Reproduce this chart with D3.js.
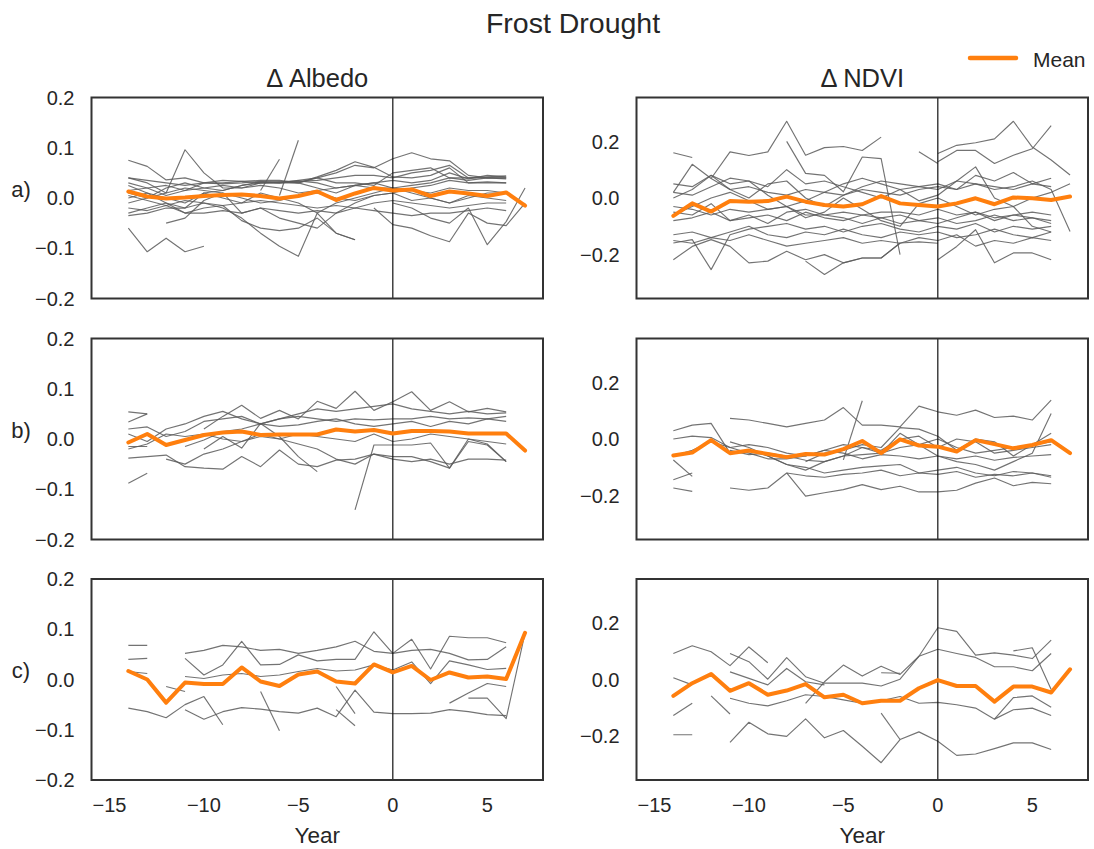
<!DOCTYPE html>
<html>
<head>
<meta charset="utf-8">
<script src="https://cdn.jsdelivr.net/npm/d3@7"></script>
<style>
  html, body { margin: 0; padding: 0; background: #fff; }
  svg text { font-family: "Liberation Sans", Arial, sans-serif; fill: #262626; }
</style>
</head>
<body>
<svg id="chart" width="1094" height="849"></svg>
<script>
// Years relative to the frost-drought event
const YEARS = [-14,-13,-12,-11,-10,-9,-8,-7,-6,-5,-4,-3,-2,-1,0,1,2,3,4,5,6,7];
const X_TICKS = [-15,-10,-5,0,5];
const ALBEDO_TICKS = [-0.2,-0.1,0.0,0.1,0.2];
const NDVI_TICKS = [-0.2,0.0,0.2];
const ROW_LABELS = ["a)","b)","c)"];
const COLUMN_TITLES = ["\u0394 Albedo","\u0394 NDVI"];
const N = null;

// ---- row a ----
const MEAN_ALBEDO_A = [0.013,0.003,-0.001,0.001,0.004,0.006,0.007,0.004,-0.001,0.004,0.013,-0.004,0.009,0.020,0.015,0.017,0.004,0.013,0.009,0.004,0.011,-0.015];
const SITES_ALBEDO_A = [
  [0.075,0.063,0.036,0.040,0.030,0.028,0.030,0.033,0.030,0.035,0.040,0.050,0.065,0.060,0.078,0.090,0.078,0.074,0.045,0.040,0.040,N],
  [0.040,0.030,0.010,0.096,0.050,0.020,0.020,0.030,0.030,0.033,0.035,0.040,0.045,0.045,0.040,0.050,0.055,0.065,0.040,0.042,0.044,N],
  [-0.060,-0.107,-0.080,-0.107,-0.096,N,N,N,N,N,N,N,N,N,N,N,N,N,N,N,N,N],
  [0.030,0.020,0.005,0.015,0.030,0.030,0.033,0.035,0.035,0.030,0.040,0.030,0.030,0.025,0.050,0.055,0.060,0.040,0.040,0.040,0.040,N],
  [0.025,0.010,0.000,-0.010,0.010,0.015,0.025,0.032,0.032,0.034,0.030,0.020,0.025,0.030,0.035,0.030,0.035,0.050,0.038,0.045,0.042,N],
  [-0.030,-0.020,-0.010,-0.030,-0.020,-0.015,-0.045,-0.060,-0.065,-0.060,-0.040,-0.070,-0.083,N,N,N,N,N,N,N,N,N],
  [0.000,0.010,-0.010,-0.020,0.010,0.000,-0.010,0.010,0.000,-0.010,-0.030,-0.010,0.000,0.010,0.020,0.010,0.000,-0.010,0.000,0.010,0.010,N],
  [-0.035,-0.030,-0.020,-0.020,-0.010,-0.020,-0.040,-0.070,-0.096,-0.116,-0.030,-0.070,-0.083,N,N,N,N,N,N,N,N,N],
  [N,N,N,N,N,N,N,N,N,N,N,N,N,-0.020,-0.053,-0.060,-0.075,-0.087,-0.030,-0.050,-0.055,-0.010],
  [N,N,N,N,N,N,N,N,N,N,N,N,N,N,-0.010,-0.020,-0.040,-0.050,-0.020,-0.093,-0.047,0.020],
  [N,N,N,N,N,N,N,0.015,0.077,N,N,N,N,N,N,N,N,N,N,N,N,N],
  [N,N,N,N,N,N,N,N,0.005,0.115,N,N,N,N,N,N,N,N,N,N,N,N],
  [0.010,0.000,0.020,0.030,0.020,0.015,0.025,0.030,0.030,0.030,0.042,0.055,0.072,0.061,0.042,0.040,0.045,0.060,0.030,0.030,0.030,N],
  [0.005,-0.005,-0.015,-0.005,-0.010,-0.015,-0.010,-0.005,-0.010,-0.015,-0.020,-0.015,-0.020,-0.010,-0.005,-0.010,-0.015,-0.020,-0.015,-0.010,-0.010,N],
  [-0.020,-0.025,-0.015,-0.030,-0.030,-0.025,-0.030,-0.020,-0.025,-0.030,-0.025,-0.030,-0.020,-0.025,-0.030,-0.035,-0.030,-0.030,-0.025,-0.020,-0.025,N],
  [0.015,0.020,0.025,0.015,0.020,0.025,0.020,0.025,0.020,0.010,0.015,0.020,0.025,0.020,0.020,0.015,0.010,0.020,0.015,0.015,0.010,N],
  [N,N,-0.050,-0.040,-0.005,0.010,-0.030,-0.020,-0.040,-0.050,-0.060,-0.030,-0.010,0.005,0.010,-0.005,0.000,-0.010,0.005,0.000,-0.005,N],
  [0.040,0.035,0.030,0.025,0.030,0.035,0.033,0.030,0.032,0.030,0.020,0.010,0.025,0.030,0.020,0.025,0.030,0.040,0.035,0.040,0.038,N],
  [-0.010,0.000,0.010,0.020,0.015,0.010,0.000,-0.010,-0.005,0.005,0.010,0.000,-0.005,0.005,0.010,0.020,0.025,0.035,0.030,0.032,0.030,N]
];
const MEAN_NDVI_A = [-0.063,-0.019,-0.048,-0.011,-0.013,-0.011,0.005,-0.013,-0.025,-0.030,-0.022,0.007,-0.019,-0.025,-0.030,-0.019,-0.001,-0.022,0.002,-0.001,-0.007,0.005];
const SITES_NDVI_A = [
  [0.160,0.143,N,N,N,N,N,N,N,N,N,N,N,N,N,N,N,N,N,N,N,N],
  [0.020,0.119,0.069,0.030,0.040,0.020,0.010,0.030,0.020,0.010,0.030,0.020,0.010,0.030,0.040,0.030,0.050,0.040,0.030,0.050,0.040,N],
  [N,N,0.069,0.163,0.150,0.163,0.271,0.151,0.178,0.182,0.168,0.215,N,N,N,N,N,N,N,N,N,N],
  [N,N,N,N,N,N,0.200,0.087,0.080,0.022,0.145,0.139,-0.200,N,N,N,N,N,N,N,N,N],
  [-0.218,-0.171,-0.147,-0.171,-0.229,-0.223,-0.188,-0.218,-0.200,-0.229,-0.212,-0.212,-0.159,-0.155,-0.160,N,N,N,N,N,N,N],
  [-0.159,-0.147,-0.253,-0.130,-0.110,-0.100,-0.090,-0.110,-0.100,-0.120,-0.100,-0.090,-0.110,-0.120,-0.100,-0.110,-0.090,-0.120,-0.100,-0.110,-0.100,N],
  [N,N,N,N,N,N,N,-0.223,-0.270,-0.229,-0.212,-0.212,-0.160,N,N,N,N,N,N,N,N,N],
  [N,N,N,N,N,N,N,N,N,N,N,N,N,N,-0.218,-0.171,-0.112,-0.229,-0.194,-0.194,-0.218,N],
  [N,N,N,N,N,N,N,N,N,N,N,N,N,N,0.157,0.186,0.195,0.209,0.271,0.180,0.134,0.081],
  [N,N,N,N,N,N,N,N,N,N,N,N,N,N,0.128,0.168,0.168,0.122,0.151,0.174,0.256,N],
  [N,N,N,N,N,N,N,N,N,N,N,N,N,0.163,0.122,N,N,N,N,N,N,N],
  [0.050,0.040,0.080,0.030,0.000,0.050,0.060,0.000,-0.030,0.010,0.040,0.060,0.050,0.040,0.030,0.060,0.050,0.030,0.040,0.060,0.030,-0.118],
  [-0.030,-0.040,-0.060,-0.040,-0.050,-0.040,-0.030,-0.060,-0.060,-0.050,-0.060,-0.050,-0.050,-0.060,-0.040,-0.060,-0.050,-0.070,-0.060,-0.070,-0.080,N],
  [-0.080,-0.070,-0.050,-0.080,-0.070,-0.060,-0.080,-0.050,-0.070,-0.080,-0.060,-0.070,-0.090,-0.080,-0.070,-0.090,-0.080,-0.060,-0.080,-0.070,-0.090,N],
  [-0.130,-0.120,-0.140,-0.120,-0.100,-0.130,-0.140,-0.120,-0.130,-0.110,-0.130,-0.140,-0.120,-0.130,-0.120,-0.140,-0.130,-0.110,-0.130,-0.140,-0.120,N],
  [0.000,0.030,0.080,0.050,0.060,0.040,0.100,0.050,0.060,0.040,0.020,0.000,0.030,0.040,0.050,0.030,0.080,0.060,0.090,0.050,0.070,N],
  [-0.060,-0.030,0.000,0.020,-0.010,-0.040,-0.030,-0.070,-0.050,0.000,-0.040,-0.080,-0.100,-0.020,0.000,-0.030,-0.060,-0.040,-0.030,-0.100,-0.120,N],
  [0.020,0.010,0.040,0.070,0.060,0.010,-0.030,-0.010,0.020,0.050,0.070,0.050,0.030,-0.010,0.010,0.060,0.110,0.000,-0.030,0.000,0.020,0.050],
  [-0.050,-0.060,-0.020,-0.080,-0.060,-0.090,-0.050,-0.040,-0.060,-0.070,-0.090,-0.070,-0.060,-0.080,-0.090,-0.070,-0.050,-0.080,-0.060,-0.050,-0.060,N],
  [-0.150,-0.160,-0.140,-0.150,-0.130,-0.150,-0.170,-0.160,-0.150,-0.140,-0.160,-0.150,-0.160,-0.140,-0.150,-0.130,-0.170,-0.150,-0.160,-0.140,-0.150,N]
];

// ---- row b ----
const MEAN_ALBEDO_B = [-0.007,0.010,-0.012,-0.002,0.008,0.013,0.015,0.008,0.009,0.009,0.009,0.019,0.015,0.018,0.011,0.016,0.016,0.015,0.011,0.011,0.011,-0.023];
const SITES_ALBEDO_B = [
  [0.054,0.050,N,N,N,N,N,N,N,N,N,N,N,N,N,N,N,N,N,N,N,N],
  [0.034,0.050,N,N,N,N,N,N,N,N,N,N,N,N,N,N,N,N,N,N,N,N],
  [0.020,0.024,0.005,0.015,0.035,0.040,0.045,0.030,0.040,0.045,0.040,0.035,0.040,0.038,0.040,0.040,0.045,0.040,0.042,0.040,0.045,N],
  [-0.015,-0.015,N,N,N,N,N,N,N,N,N,N,N,N,N,N,N,N,N,N,N,N],
  [-0.088,-0.068,N,N,N,N,N,N,N,N,N,N,N,N,N,N,N,N,N,N,N,N],
  [-0.038,-0.035,-0.032,-0.055,-0.058,-0.060,-0.035,-0.055,-0.022,-0.050,-0.055,-0.042,-0.040,-0.030,-0.035,-0.035,-0.045,-0.058,-0.005,-0.012,-0.045,N],
  [N,N,N,N,0.020,0.045,0.067,0.041,0.057,0.040,0.075,0.061,0.095,0.057,0.074,0.094,0.057,0.074,0.054,0.061,0.054,N],
  [N,N,N,N,N,N,N,N,N,N,N,N,-0.141,-0.012,-0.012,-0.012,-0.008,-0.058,0.000,-0.010,-0.045,N],
  [N,N,N,-0.015,-0.002,0.015,0.020,0.030,0.025,0.028,0.035,0.040,0.030,0.025,0.030,0.035,0.025,0.035,0.030,0.040,0.035,N],
  [N,N,-0.040,-0.050,-0.030,-0.020,-0.005,0.010,0.000,-0.010,-0.020,-0.040,-0.050,-0.030,-0.040,-0.045,-0.040,-0.050,-0.040,-0.040,-0.042,N],
  [N,N,N,N,-0.020,0.005,-0.018,0.031,0.005,-0.035,-0.065,N,N,N,N,N,N,N,N,N,N,N],
  [0.010,-0.005,0.020,0.030,0.045,0.055,0.040,0.030,0.040,0.050,0.060,0.055,0.060,0.065,0.070,0.060,0.055,0.050,0.055,0.050,0.052,N],
  [-0.020,-0.010,0.010,0.005,0.010,0.000,-0.005,0.005,0.000,0.010,0.005,0.000,-0.005,0.010,-0.005,0.000,0.010,0.005,0.000,-0.005,-0.010,N]
];
const MEAN_NDVI_B = [-0.058,-0.048,-0.004,-0.050,-0.041,-0.053,-0.064,-0.053,-0.055,-0.036,-0.007,-0.050,-0.001,-0.023,-0.027,-0.044,-0.004,-0.018,-0.033,-0.021,-0.004,-0.050];
const SITES_NDVI_B = [
  [0.029,0.049,0.055,-0.050,-0.040,-0.060,-0.090,-0.100,-0.120,-0.110,-0.100,-0.095,-0.090,-0.120,-0.110,-0.100,-0.120,-0.130,-0.115,-0.120,-0.130,N],
  [N,N,N,0.073,0.067,0.055,0.043,0.055,0.067,0.111,0.049,0.049,0.043,0.116,0.096,0.084,0.102,0.076,0.081,0.067,0.137,N],
  [N,N,N,N,N,N,N,N,N,-0.074,0.135,N,N,N,N,N,N,N,N,N,N,N],
  [N,N,N,N,N,N,-0.120,-0.202,-0.190,-0.179,-0.161,-0.179,-0.167,-0.187,-0.187,-0.181,-0.156,-0.138,-0.165,-0.153,-0.158,N],
  [N,N,N,-0.173,-0.181,-0.173,-0.120,-0.130,-0.135,-0.125,-0.120,-0.110,-0.130,-0.120,-0.125,-0.115,-0.135,-0.125,-0.130,-0.120,-0.135,N],
  [-0.173,-0.185,N,N,N,N,N,N,N,N,N,N,N,N,N,N,N,N,N,N,N,N],
  [-0.144,-0.120,N,N,N,N,N,N,N,N,N,N,N,N,N,N,N,N,N,N,N,N],
  [-0.074,-0.132,N,N,N,N,N,N,N,N,N,N,N,N,N,N,N,N,N,N,N,N],
  [-0.060,-0.040,-0.010,-0.030,-0.020,-0.030,-0.050,-0.060,-0.040,-0.020,-0.030,-0.040,0.000,0.010,-0.030,0.000,-0.010,-0.050,-0.040,-0.030,-0.020,N],
  [N,N,N,-0.010,-0.030,-0.060,-0.090,-0.110,-0.080,-0.060,-0.030,-0.050,0.020,-0.020,-0.060,-0.080,-0.090,-0.110,-0.080,-0.050,0.090,N],
  [N,N,N,N,N,N,N,-0.080,-0.050,-0.040,-0.020,-0.030,0.040,0.035,0.010,-0.040,0.000,-0.010,-0.060,-0.020,0.020,N],
  [0.000,0.010,0.005,-0.030,-0.050,-0.070,-0.070,-0.060,-0.040,-0.050,-0.070,-0.055,-0.060,-0.070,-0.060,-0.070,-0.060,-0.075,-0.065,-0.060,-0.055,N],
  [N,N,N,-0.040,-0.055,-0.050,-0.060,-0.075,-0.080,-0.060,-0.055,-0.050,-0.030,-0.020,0.000,-0.030,-0.050,-0.040,-0.030,-0.020,-0.010,N]
];

// ---- row c ----
const MEAN_ALBEDO_C = [0.017,0.000,-0.046,-0.006,-0.009,-0.009,0.024,-0.004,-0.013,0.010,0.016,-0.004,-0.008,0.030,0.014,0.027,-0.001,0.014,0.004,0.006,0.001,0.093];
const SITES_ALBEDO_C = [
  [0.068,0.068,N,N,N,N,N,N,N,N,N,N,N,N,N,N,N,N,N,N,N,N],
  [0.040,0.042,N,N,N,N,N,N,N,N,N,N,N,N,N,N,N,N,N,N,N,N],
  [0.016,0.012,N,N,N,N,N,N,N,N,N,N,N,N,N,N,N,N,N,N,N,N],
  [-0.057,-0.064,-0.076,-0.050,-0.034,-0.090,N,N,N,N,N,N,N,N,N,N,N,N,N,N,N,N],
  [N,N,N,-0.060,-0.079,-0.064,-0.056,-0.059,-0.064,-0.067,-0.057,-0.074,-0.021,-0.065,-0.068,-0.068,-0.067,-0.060,-0.064,-0.070,-0.072,N],
  [N,N,N,0.052,0.058,0.068,0.065,0.058,0.060,0.052,0.058,0.065,0.076,0.056,0.052,0.058,0.060,0.052,0.039,0.040,0.065,N],
  [N,N,N,0.042,0.009,0.029,0.076,0.029,0.030,0.049,0.037,0.040,0.040,0.095,0.052,0.080,0.021,0.086,0.083,0.083,0.073,N],
  [N,N,N,0.006,0.002,0.009,0.012,0.006,0.009,0.016,0.022,0.017,0.019,0.029,0.019,0.035,-0.008,0.037,0.029,0.020,0.022,N],
  [N,N,-0.014,-0.024,N,N,N,N,N,N,N,N,N,N,N,N,N,N,N,N,N,N],
  [N,N,N,N,N,N,N,-0.024,-0.102,N,N,N,N,N,N,N,N,N,N,N,N,N],
  [N,N,N,N,N,N,N,N,N,N,N,-0.014,-0.068,N,N,N,N,N,N,N,N,N],
  [N,N,N,N,N,N,N,N,N,N,N,-0.060,-0.092,N,N,N,N,N,N,N,N,N],
  [N,N,N,N,N,N,N,N,N,N,N,N,N,N,N,N,N,-0.047,-0.027,-0.008,-0.014,N],
  [N,N,N,N,N,N,N,N,N,N,N,N,N,N,N,N,N,N,-0.037,-0.037,-0.078,0.093]
];
const MEAN_NDVI_C = [-0.058,-0.013,0.019,-0.040,-0.013,-0.054,-0.039,-0.016,-0.063,-0.054,-0.084,-0.075,-0.075,-0.031,-0.002,-0.023,-0.023,-0.078,-0.025,-0.025,-0.046,0.036];
const SITES_NDVI_C = [
  [0.092,0.119,0.098,0.049,0.115,0.059,N,N,N,N,N,N,N,N,N,N,N,N,N,N,N,N],
  [N,N,N,0.092,0.063,0.001,0.077,0.010,-0.013,-0.013,-0.013,-0.023,0.001,0.082,0.107,0.092,0.078,0.045,0.045,0.031,0.092,N],
  [N,N,N,0.027,0.004,-0.019,0.039,-0.008,-0.019,N,N,N,N,N,N,N,N,N,N,N,N,N],
  [N,N,N,N,N,N,N,-0.084,-0.008,0.051,0.012,0.047,0.018,0.082,0.183,0.170,0.086,0.094,0.086,0.074,0.139,N],
  [N,N,N,-0.066,-0.084,-0.093,-0.075,-0.054,-0.060,-0.072,-0.084,-0.075,-0.060,-0.084,-0.081,-0.089,-0.101,-0.140,-0.107,-0.101,-0.127,N],
  [N,N,N,N,N,N,N,N,N,N,N,N,N,N,N,N,N,-0.140,-0.064,-0.058,-0.098,N],
  [N,N,N,-0.222,-0.151,-0.192,-0.201,-0.139,-0.206,-0.180,-0.236,-0.294,-0.212,-0.185,-0.218,-0.268,-0.263,-0.244,-0.224,-0.224,-0.247,N],
  [N,N,N,N,N,N,N,N,N,N,N,-0.119,-0.212,N,N,N,N,N,N,N,N,N],
  [0.006,-0.019,N,N,N,N,N,N,N,N,N,N,N,N,N,N,N,N,N,N,N,N],
  [-0.127,-0.084,N,N,N,N,N,N,N,N,N,N,N,N,N,N,N,N,N,N,N,N],
  [-0.195,-0.195,N,N,N,N,N,N,N,N,N,N,N,N,N,N,N,N,N,N,N,N],
  [N,N,-0.058,-0.122,N,N,N,N,N,N,N,N,N,N,N,N,N,N,N,N,N,N],
  [N,N,N,N,N,N,N,N,N,N,N,N,N,N,N,N,N,N,0.101,0.112,-0.035,N],
  [N,N,N,N,N,N,N,N,N,N,N,0.024,0.022,N,N,N,N,N,N,N,N,N]
];

// Panel grid: [row][col]
const PANELS = [
  [{mean: MEAN_ALBEDO_A, sites: SITES_ALBEDO_A, kind: "albedo"}, {mean: MEAN_NDVI_A, sites: SITES_NDVI_A, kind: "ndvi"}],
  [{mean: MEAN_ALBEDO_B, sites: SITES_ALBEDO_B, kind: "albedo"}, {mean: MEAN_NDVI_B, sites: SITES_NDVI_B, kind: "ndvi"}],
  [{mean: MEAN_ALBEDO_C, sites: SITES_ALBEDO_C, kind: "albedo"}, {mean: MEAN_NDVI_C, sites: SITES_NDVI_C, kind: "ndvi"}]
];

const svg = d3.select("#chart");
const COL_X = [91.5, 636.5];
const PANEL_W = 451.5;
const ROW_Y = [97.5, 338.5, 579];
const PANEL_H = 201;
const ORANGE = "#ff7f0e";
const TICK_FONT = "20px";
const fmtTick = v => d3.format(".1f")(v).replace("-", "\u2212");

svg.append("text")
  .attr("x", 573).attr("y", 33)
  .attr("text-anchor", "middle")
  .style("font-size", "28.5px")
  .text("Frost Drought");

COLUMN_TITLES.forEach((t, c) => {
  svg.append("text")
    .attr("x", COL_X[c] + PANEL_W / 2).attr("y", 87)
    .attr("text-anchor", "middle")
    .style("font-size", "25.5px")
    .text(t);
});

PANELS.forEach((row, r) => {
  row.forEach((p, c) => {
    const x0 = COL_X[c], y0 = ROW_Y[r];
    const x = d3.scaleLinear().domain([-15.95, 7.95]).range([x0, x0 + PANEL_W]);
    const y = p.kind === "albedo"
      ? d3.scaleLinear().domain([-0.2, 0.2]).range([y0 + PANEL_H, y0])
      : d3.scaleLinear().domain([-0.355, 0.355]).range([y0 + PANEL_H, y0]);
    const g = svg.append("g");

    const line = d3.line()
      .defined(d => d.v !== null)
      .x(d => x(d.t))
      .y(d => y(d.v));

    const clipId = `clip-${r}-${c}`;
    g.append("clipPath").attr("id", clipId)
      .append("rect").attr("x", x0).attr("y", y0).attr("width", PANEL_W).attr("height", PANEL_H);
    const plot = g.append("g").attr("clip-path", `url(#${clipId})`);

    // individual sites
    plot.selectAll("path.site")
      .data(p.sites)
      .join("path")
      .attr("class", "site")
      .attr("d", s => line(YEARS.map((t, i) => ({t, v: s[i]}))))
      .attr("fill", "none")
      .attr("stroke", "#5a5a5a")
      .attr("stroke-opacity", 0.85)
      .attr("stroke-width", 1.15)
      .attr("stroke-linejoin", "round");

    // event year marker
    plot.append("line")
      .attr("x1", x(0)).attr("x2", x(0))
      .attr("y1", y0).attr("y2", y0 + PANEL_H)
      .attr("stroke", "#111").attr("stroke-width", 1.2);

    // mean across sites
    plot.append("path")
      .attr("d", line(YEARS.map((t, i) => ({t, v: p.mean[i]}))))
      .attr("fill", "none")
      .attr("stroke", ORANGE)
      .attr("stroke-width", 4)
      .attr("stroke-linejoin", "round")
      .attr("stroke-linecap", "round");

    // frame
    g.append("rect")
      .attr("x", x0).attr("y", y0).attr("width", PANEL_W).attr("height", PANEL_H)
      .attr("fill", "none").attr("stroke", "#333").attr("stroke-width", 2);

    // y tick labels
    const yTicks = p.kind === "albedo" ? ALBEDO_TICKS : NDVI_TICKS;
    g.selectAll("text.ytick")
      .data(yTicks)
      .join("text")
      .attr("class", "ytick")
      .attr("x", x0 - 17)
      .attr("y", d => y(d))
      .attr("dy", "0.36em")
      .attr("text-anchor", "end")
      .style("font-size", TICK_FONT)
      .text(fmtTick);

    // x tick labels on the bottom row
    if (r === 2) {
      g.selectAll("text.xtick")
        .data(X_TICKS)
        .join("text")
        .attr("class", "xtick")
        .attr("x", d => x(d))
        .attr("y", y0 + PANEL_H + 31.5)
        .attr("text-anchor", "middle")
        .style("font-size", TICK_FONT)
        .text(d => String(d).replace("-", "\u2212"));
      g.append("text")
        .attr("x", x0 + PANEL_W / 2)
        .attr("y", y0 + PANEL_H + 62.5)
        .attr("text-anchor", "middle")
        .style("font-size", "22.5px")
        .text("Year");
    }

    // row label
    if (c === 0) {
      svg.append("text")
        .attr("x", 21).attr("y", y0 + PANEL_H / 2 - 9)
        .attr("dy", "0.35em")
        .attr("text-anchor", "middle")
        .style("font-size", "22px")
        .text(ROW_LABELS[r]);
    }
  });
});

// legend
const legend = svg.append("g");
legend.append("line")
  .attr("x1", 970).attr("x2", 1016).attr("y1", 58).attr("y2", 58)
  .attr("stroke", ORANGE).attr("stroke-width", 4.5).attr("stroke-linecap", "round");
legend.append("text")
  .attr("x", 1033).attr("y", 67)
  .style("font-size", "21px")
  .text("Mean");
</script>
</body>
</html>
